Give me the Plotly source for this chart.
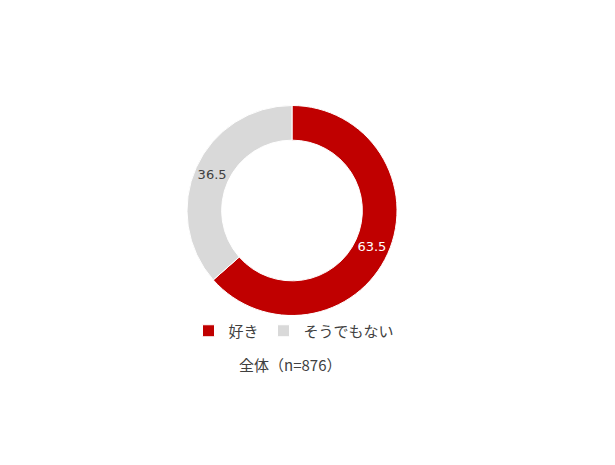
import plotly.graph_objects as go

labels = ["好き", "そうでもない"]
values = [63.5, 36.5]
colors = ["#C00000", "#D9D9D9"]
text_colors = ["#FFFFFF", "#404040"]
title_text = "全体（n=876）"

# the page body has an 8px margin, so the figure is drawn 8px smaller
W, H = 607, 457
cx, cy, r = 284, 202.5, 105

fig = go.Figure()
fig.add_trace(go.Pie(
    labels=labels,
    values=values,
    hole=0.67,
    sort=False,
    direction="clockwise",
    rotation=0,
    marker=dict(colors=colors, line=dict(color="#FFFFFF", width=1)),
    textinfo="value",
    texttemplate="%{value:.1f}",
    textposition="inside",
    insidetextorientation="horizontal",
    textfont=dict(color=text_colors, size=13, family="DejaVu Sans"),
    domain=dict(x=[(cx - r) / W, (cx + r) / W], y=[(H - cy - r) / H, (H - cy + r) / H]),
))

fig.add_annotation(
    text=title_text, x=282 / W, y=(H - 356) / H, xref="paper", yref="paper",
    xanchor="center", yanchor="middle",
    showarrow=False, font=dict(size=15, color="#404040", family="Noto Sans CJK JP"),
)

fig.update_layout(
    width=W, height=H,
    margin=dict(l=0, r=0, t=0, b=0),
    paper_bgcolor="white",
    plot_bgcolor="white",
    showlegend=True,
    legend=dict(
        orientation="h", x=286 / W, xanchor="center", y=(H - 323) / H, yanchor="middle",
        font=dict(size=15, color="#404040", family="Noto Sans CJK JP"),
        itemwidth=30,
    ),
)

fig.write_html("out.html")
